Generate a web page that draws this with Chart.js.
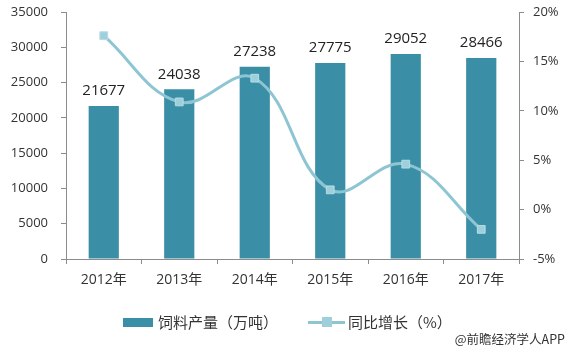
<!DOCTYPE html>
<html>
<head>
<meta charset="utf-8">
<script src="https://cdn.jsdelivr.net/npm/chart.js@4"></script>
<style>
  body { margin: 0; background: #fff; }
  #wrap { position: relative; width: 568px; height: 350px; font-family: "Noto Sans CJK SC", sans-serif; color: #333; }
  #chart { position: absolute; left: 0; top: 0; }
  .leg { position: absolute; top: 312px; font-size: 15px; line-height: 20px; white-space: nowrap; }
  .sw-bar { position: absolute; left: 123px; top: 318px; width: 30px; height: 9px; background: #3a8ea6; }
  .sw-line { position: absolute; left: 308px; top: 321px; width: 37px; height: 3px; background: #8ec5d3; }
  .sw-pt { position: absolute; left: 322px; top: 317px; width: 10px; height: 10px; background: #9ed0dc; }
  #src { position: absolute; right: 3px; top: 329px; font-size: 12.5px; color: #333; }
</style>
</head>
<body>
<div id="wrap">
  <canvas id="chart" width="568" height="350"></canvas>
  <div class="sw-bar"></div>
  <div class="leg" style="left:158px">饲料产量（万吨）</div>
  <div class="sw-line"></div>
  <div class="sw-pt"></div>
  <div class="leg" style="left:348px">同比增长（%）</div>
  <div id="src">@前瞻经济学人APP</div>
</div>
<script>
const years = ['2012年', '2013年', '2014年', '2015年', '2016年', '2017年'];
const output = [21677, 24038, 27238, 27775, 29052, 28466];
const growth = [17.6, 10.9, 13.3, 2.0, 4.6, -2.0];

const axisColor = '#8c8c8c';
const tickFont = { family: '"Open Sans", "Noto Sans CJK SC", sans-serif', size: 13 };

// numbers above the bars
const barLabels = {
  id: 'barLabels',
  afterDatasetsDraw(chart) {
    const ctx = chart.ctx;
    const meta = chart.getDatasetMeta(0);
    ctx.save();
    ctx.font = '15px "Open Sans", sans-serif';
    ctx.fillStyle = '#222';
    ctx.textAlign = 'center';
    ctx.textBaseline = 'middle';
    meta.data.forEach((bar, i) => {
      ctx.fillText(output[i], bar.x, bar.y - 15);
    });
    ctx.restore();
  }
};

// keep the plot box where the reference has it
const fitSide = w => s => { s.width = w; s.paddingTop = 0; s.paddingBottom = 0; };

const chart = new Chart(document.getElementById('chart'), {
  type: 'bar',
  data: {
    labels: years,
    datasets: [{
      label: '饲料产量（万吨）',
      data: output,
      backgroundColor: '#3a8ea6',
      barPercentage: 0.4,
      categoryPercentage: 1,
      yAxisID: 'y',
      order: 1
    }, {
      type: 'line',
      label: '同比增长（%）',
      data: growth,
      borderColor: '#8ec5d3',
      borderWidth: 3,
      tension: 0.4,
      pointStyle: 'rect',
      pointRadius: 5.5,
      pointBackgroundColor: '#9ed0dc',
      pointBorderColor: '#b4dce6',
      pointBorderWidth: 1,
      yAxisID: 'y1',
      order: 0
    }]
  },
  options: {
    responsive: false,
    animation: false,
    layout: { padding: { top: 12, left: 0, right: 0, bottom: 0 } },
    plugins: { legend: { display: false }, tooltip: { enabled: false } },
    scales: {
      x: {
        offset: true,
        grid: { offset: true, drawOnChartArea: false, drawTicks: true, tickLength: 5, color: axisColor },
        border: { display: true, color: axisColor },
        ticks: { color: '#333', font: { family: '"Open Sans", "Noto Sans CJK SC", sans-serif', size: 14 }, padding: 8, maxRotation: 0 },
        afterFit: s => { s.height = 91; s.paddingLeft = 0; s.paddingRight = 0; }
      },
      y: {
        position: 'left',
        min: 0,
        max: 35000,
        ticks: { stepSize: 5000, color: '#333', font: tickFont, padding: 13, callback: v => String(v) },
        grid: { drawOnChartArea: false, tickLength: 5, color: axisColor },
        border: { display: true, color: axisColor },
        afterFit: fitSide(66)
      },
      y1: {
        position: 'right',
        min: -5,
        max: 20,
        ticks: { stepSize: 5, color: '#333', font: tickFont, padding: 9, callback: v => v + '%' },
        grid: { drawOnChartArea: false, tickLength: 5, color: axisColor },
        border: { display: true, color: axisColor },
        afterFit: fitSide(49)
      }
    }
  },
  plugins: [barLabels]
});
</script>
</body>
</html>
